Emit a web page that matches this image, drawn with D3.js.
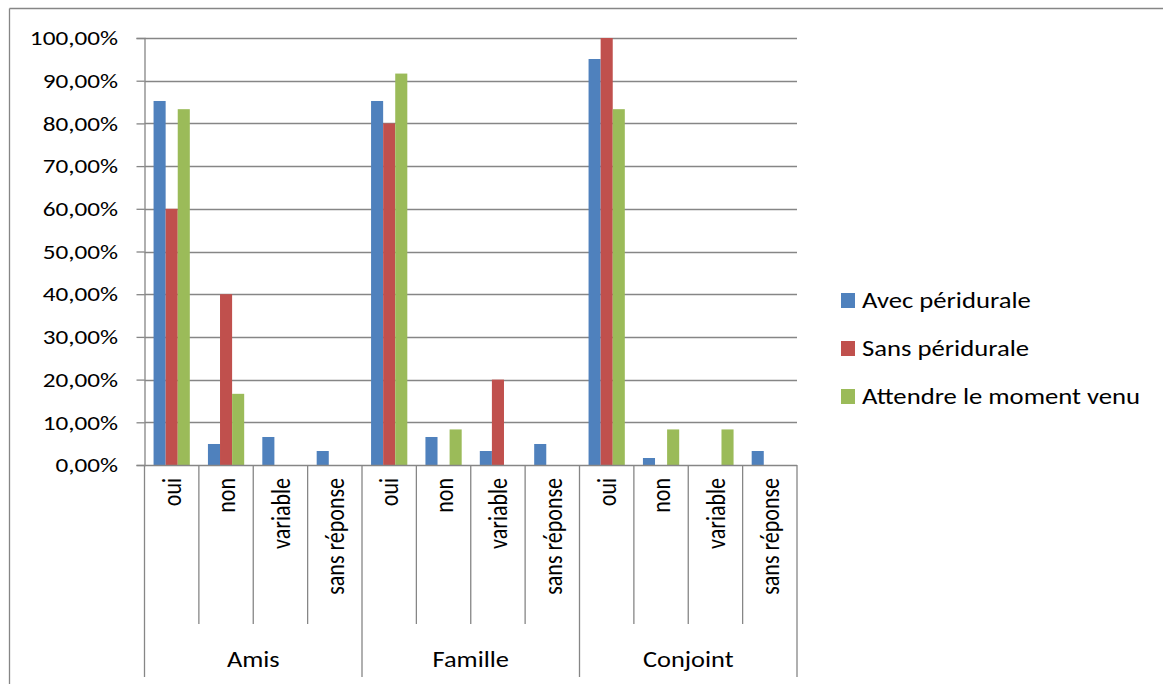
<!DOCTYPE html>
<html>
<head>
  <meta charset="utf-8">
  <title>Péridurale - entourage</title>
  <style>
    body { margin: 0; background: #fff; }
    svg text { font-family: Calibri, Carlito, "Open Sans", sans-serif; fill: #000; }
  </style>
</head>
<body>
<div id="chart"></div>
<script src="https://cdn.jsdelivr.net/npm/d3@7"></script>
<script>
// ******* data *******
const groups = ["Amis", "Famille", "Conjoint"];
const answers = ["oui", "non", "variable", "sans réponse"];
const seriesNames = ["Avec péridurale", "Sans péridurale", "Attendre le moment venu"];
const seriesColors = ["#4F81BD", "#C0504D", "#9BBB59"];
// values in %, order: Amis(oui,non,variable,sans réponse), Famille(...), Conjoint(...)
const avecPeri = [85.25, 4.92, 6.56, 3.28, 85.25, 6.56, 3.28, 4.92, 95.08, 1.64, 0, 3.28];
const sansPeri = [60, 40, 0, 0, 80, 0, 20, 0, 100, 0, 0, 0];
const attendre = [83.33, 16.67, 0, 0, 91.67, 8.33, 0, 0, 83.33, 8.33, 8.33, 0];
const yTicks = [0, 10, 20, 30, 40, 50, 60, 70, 80, 90, 100];

const allSeries = [avecPeri, sansPeri, attendre];

const W = 1163, H = 684;
const plot = { left: 144.5, right: 797, top: 38, bottom: 465 };
const gridColor = "#868686";
// the reference picture is stretched sideways, so text is too
const sx = 1.2;

const svg = d3.select("#chart").append("svg")
  .attr("width", W).attr("height", H);

// outer chart border (only top and left visible in the crop)
svg.append("line").attr("x1", 9.5).attr("x2", W).attr("y1", 8.5).attr("y2", 8.5)
  .attr("stroke", gridColor).attr("stroke-width", 1.3);
svg.append("line").attr("x1", 9.5).attr("x2", 9.5).attr("y1", 8.5).attr("y2", H)
  .attr("stroke", gridColor).attr("stroke-width", 1.3);

// ******* scales *******
const cats = d3.range(groups.length * answers.length);
const x = d3.scaleBand().domain(cats).range([plot.left, plot.right]);
const xs = d3.scaleBand().domain(d3.range(seriesNames.length))
  .range([0, x.bandwidth()]).paddingInner(0).paddingOuter(0.75);
const y = d3.scaleLinear().domain([0, 100]).range([plot.bottom, plot.top]);

const locale = d3.formatLocale({ decimal: ",", thousands: " ", grouping: [3], currency: ["", "€"] });
const fmt = locale.format(".2f");

// ******* gridlines + y axis *******
svg.append("g").selectAll("line").data(yTicks.filter(d => d > 0)).join("line")
  .attr("x1", plot.left).attr("x2", plot.right)
  .attr("y1", d => Math.round(y(d)) + 0.5).attr("y2", d => Math.round(y(d)) + 0.5)
  .attr("stroke", gridColor).attr("stroke-width", 1.3);

const yAxis = svg.append("g")
  .attr("transform", `translate(${plot.left},0)`)
  .call(d3.axisLeft(y).tickValues(yTicks).tickSize(8)
    .tickFormat(d => fmt(d) + "%"));
yAxis.select(".domain").attr("stroke", gridColor).attr("stroke-width", 1.3);
yAxis.selectAll(".tick line").attr("stroke", gridColor).attr("stroke-width", 1.3);
yAxis.selectAll(".tick text")
  .attr("x", -26.5 / sx)
  .attr("transform", `scale(${sx},1)`)
  .style("font-size", "21px").attr("fill", "#000");

// ******* bars *******
allSeries.forEach(function(vals, s) {
  svg.append("g").selectAll("rect").data(vals).join("rect")
    .attr("x", (d, i) => x(i) + xs(s))
    .attr("width", xs.bandwidth())
    .attr("y", d => y(d))
    .attr("height", d => y(0) - y(d))
    .attr("fill", seriesColors[s]);
});

// ******* category axis (two levels) *******
svg.append("line").attr("x1", plot.left).attr("x2", plot.right)
  .attr("y1", plot.bottom + 0.5).attr("y2", plot.bottom + 0.5)
  .attr("stroke", gridColor).attr("stroke-width", 1.3);

const edges = d3.range(cats.length + 1).map(i => plot.left + i * x.step());
svg.append("g").selectAll("line").data(edges).join("line")
  .attr("x1", d => d).attr("x2", d => d)
  .attr("y1", plot.bottom)
  .attr("y2", (d, i) => i % answers.length === 0 ? 677 : 624)
  .attr("stroke", gridColor).attr("stroke-width", 1.3);

svg.append("g").selectAll("text").data(cats).join("text")
  .attr("transform", d => `translate(${x(d) + x.bandwidth() / 2},478) scale(${sx},1) rotate(-90)`)
  .attr("text-anchor", "end")
  .attr("dy", "0.35em")
  .style("font-size", "22px")
  .text(d => answers[d % answers.length]);

svg.append("g").selectAll("text").data(groups).join("text")
  .attr("transform", (d, i) => `translate(${plot.left + (i + 0.5) * answers.length * x.step()},667) scale(${sx},1)`)
  .attr("text-anchor", "middle")
  .style("font-size", "22px")
  .text(d => d);

// ******* legend *******
const legend = svg.append("g").attr("transform", "translate(841,293)");
const items = legend.selectAll("g").data(seriesNames).join("g")
  .attr("transform", (d, i) => `translate(0,${i * 48})`);
items.append("rect").attr("width", 14).attr("height", 15)
  .attr("fill", (d, i) => seriesColors[i]);
items.append("text")
  .attr("transform", "translate(21,15) scale(1.16,1)")
  .style("font-size", "23px")
  .text(d => d);
</script>
</body>
</html>
